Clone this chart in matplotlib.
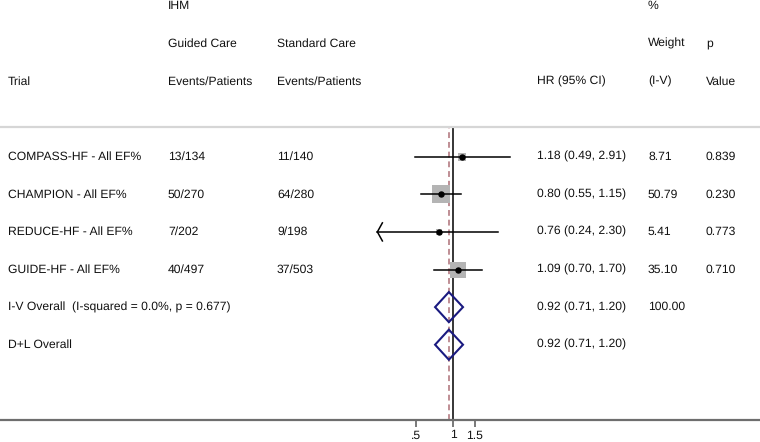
import numpy as np
import matplotlib
matplotlib.use('Agg')
import matplotlib.pyplot as plt
import matplotlib.transforms as mtransforms
from matplotlib.patches import Polygon

plt.rcParams['font.family'] = ['Liberation Sans', 'DejaVu Sans']
plt.rcParams['text.hinting'] = 'no_hinting'

# data
trials = ['COMPASS-HF - All EF%', 'CHAMPION - All EF%', 'REDUCE-HF - All EF%', 'GUIDE-HF - All EF%']
guided = ['13/134', '50/270', '7/202', '40/497']
standard = ['11/140', '64/280', '9/198', '37/503']
hr = [1.18, 0.80, 0.76, 1.09]
ci_lo = [0.49, 0.55, 0.24, 0.70]
ci_hi = [2.91, 1.15, 2.30, 1.70]
weights = [8.71, 50.79, 5.41, 35.10]
pvals = ['0.839', '0.230', '0.773', '0.710']

overall_labels = ['I-V Overall  (I-squared = 0.0%, p = 0.677)', 'D+L Overall']
overall_hr = [0.92, 0.92]
overall_lo = [0.71, 0.71]
overall_hi = [1.20, 1.20]
overall_weight = ['100.00', '']

tick_vals = [0.5, 1, 1.5]
tick_labels = ['.5', '1', '1.5']
x_clip = 0.24  # left end of plotted range, CIs below get an arrow

W, H = 760, 442
fig = plt.figure(figsize=(W / 100, H / 100), dpi=100)

# forest axes spans full width; log scale, 53.2 px per ln unit, HR=1 at x=453.3
px_per_ln = 53.2
x_one = 453.3
xmin = np.exp(-x_one / px_per_ln)
xmax = np.exp((W - x_one) / px_per_ln)

top_px, bot_px = 127, 420
ax = fig.add_axes([0, (H - bot_px) / H, 1, (bot_px - top_px) / H])
ax.set_xscale('log')
ax.set_xlim(xmin, xmax)
row0, row_step = 156.7, 37.6
ax.set_ylim((bot_px - row0) / row_step, (top_px - row0) / row_step)

for s in ['left', 'right']:
    ax.spines[s].set_visible(False)
ax.spines['top'].set_color('#d6d6d6')
ax.spines['top'].set_linewidth(1.6)
ax.spines['bottom'].set_color('#6e6e6e')
ax.spines['bottom'].set_linewidth(1.6)
ax.set_yticks([])
ax.set_xticks(tick_vals)
ax.set_xticklabels(tick_labels)
ax.xaxis.set_minor_locator(matplotlib.ticker.NullLocator())
ax.tick_params(axis='x', length=5, width=1.1, color='#555555', labelsize=8.7, pad=2,
               labelcolor='#111111')

fs = 8.7
trans = mtransforms.blended_transform_factory(fig.transFigure, ax.transData)


def txt(px, row, s):
    ax.text(px / W, row, s, transform=trans, fontsize=fs, va='center', ha='left',
            color='#111111', clip_on=False)


# headers
txt(168, -4, 'IHM')
txt(648, -4, '%')
txt(168, -3, 'Guided Care')
txt(277, -3, 'Standard Care')
txt(648, -3, 'Weight')
txt(706, -3, 'p')
txt(8, -2, 'Trial')
txt(168, -2, 'Events/Patients')
txt(277, -2, 'Events/Patients')
txt(537, -2, 'HR (95% CI)')
txt(648, -2, '(I-V)')
txt(706, -2, 'Value')

# reference lines
ax.axvline(1, color='black', lw=1.1, zorder=2)
ax.axvline(overall_hr[0], color='#bf8d94', lw=1.4, ls=(0, (3, 2)), zorder=1)

# study rows
for i in range(len(trials)):
    txt(8, i, trials[i])
    txt(168, i, guided[i])
    txt(277, i, standard[i])
    txt(537, i, f'{hr[i]:.2f} ({ci_lo[i]:.2f}, {ci_hi[i]:.2f})')
    txt(648, i, f'{weights[i]:.2f}')
    txt(706, i, pvals[i])
    side = 2.65 * np.sqrt(weights[i]) * 0.72
    ax.scatter([hr[i]], [i], marker='s', s=side ** 2, color='#b4b4b4', lw=0, zorder=3)
    lo = max(ci_lo[i], x_clip)
    ax.plot([lo, ci_hi[i]], [i, i], color='black', lw=1.1, zorder=4)
    if ci_lo[i] <= x_clip:
        f = np.exp(5 / px_per_ln)
        ax.plot([lo * f, lo, lo * f], [i - 0.24, i, i + 0.24], color='black', lw=1.1, zorder=4)
    ax.plot([hr[i]], [i], 'o', color='black', ms=3.6, zorder=5)

# overall rows
for j in range(len(overall_labels)):
    r = len(trials) + j
    txt(8, r, overall_labels[j])
    txt(537, r, f'{overall_hr[j]:.2f} ({overall_lo[j]:.2f}, {overall_hi[j]:.2f})')
    txt(648, r, overall_weight[j])
    d = Polygon([[overall_lo[j], r], [overall_hr[j], r - 0.4], [overall_hi[j], r],
                 [overall_hr[j], r + 0.4]], closed=True, fill=False,
                edgecolor='#1a1a80', lw=1.5, zorder=4)
    ax.add_patch(d)

fig.savefig('out.png', dpi=100)
